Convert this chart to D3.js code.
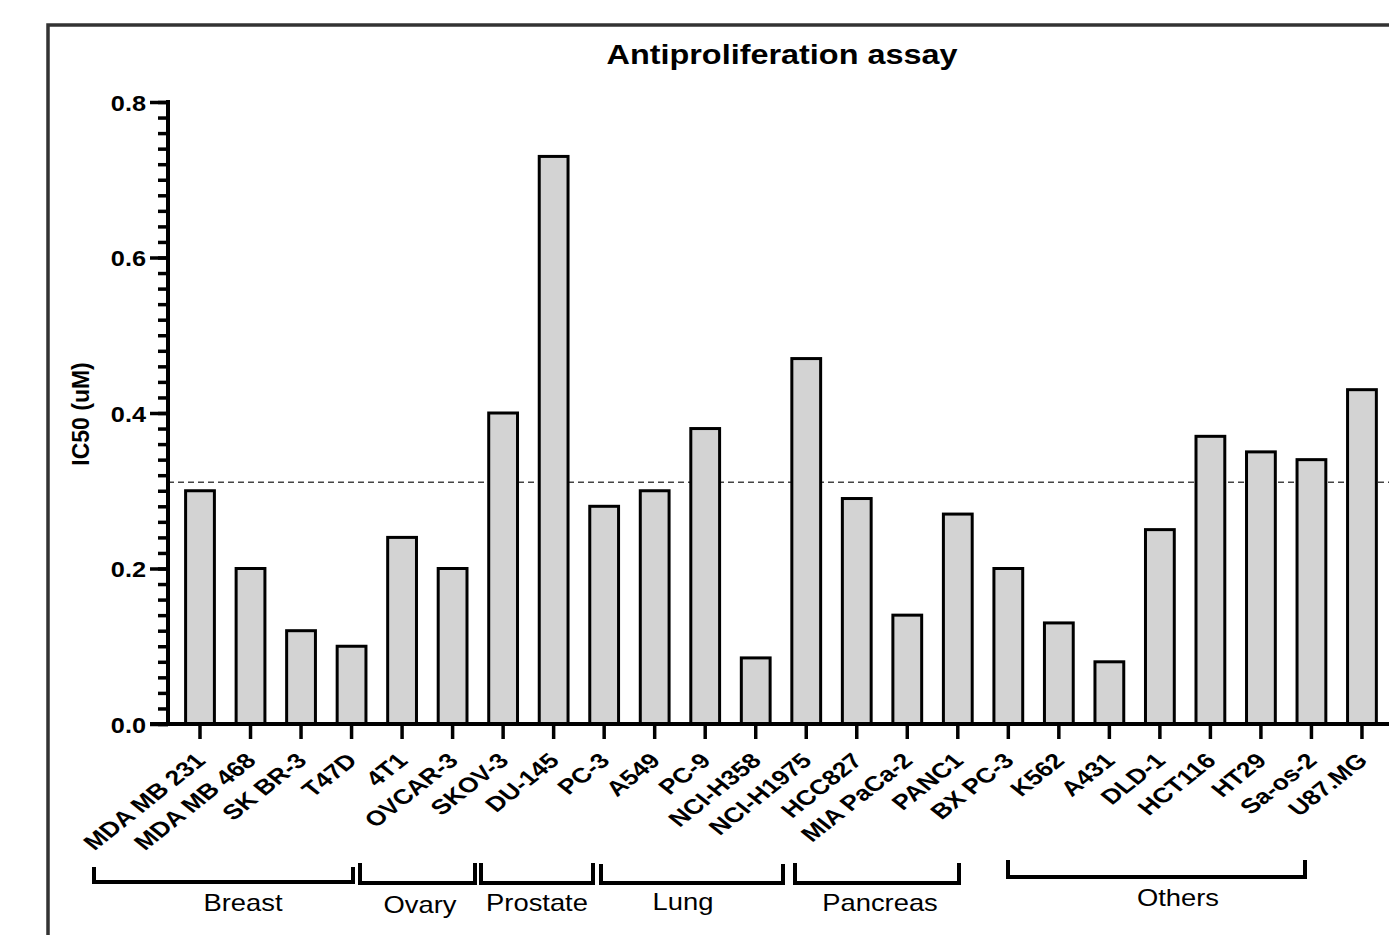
<!DOCTYPE html>
<html>
<head>
<meta charset="utf-8">
<script src="https://cdn.jsdelivr.net/npm/d3@7/dist/d3.min.js"></script>
<style>
  html, body { margin: 0; padding: 0; background: #fff; }
  svg { display: block; font-family: "Liberation Sans", Arial, sans-serif; }
</style>
</head>
<body>
<svg id="chart" width="1389" height="935"></svg>
<script>
// IC50 per cell line
const cellLines = ["MDA MB 231", "MDA MB 468", "SK BR-3", "T47D", "4T1", "OVCAR-3",
  "SKOV-3", "DU-145", "PC-3", "A549", "PC-9", "NCI-H358", "NCI-H1975", "HCC827",
  "MIA PaCa-2", "PANC1", "BX PC-3", "K562", "A431", "DLD-1", "HCT116", "HT29",
  "Sa-os-2", "U87.MG"];
const ic50 = [0.30, 0.20, 0.12, 0.10, 0.24, 0.20, 0.40, 0.73, 0.28, 0.30, 0.38, 0.085,
  0.47, 0.29, 0.14, 0.27, 0.20, 0.13, 0.08, 0.25, 0.37, 0.35, 0.34, 0.43];
const yTickValues = [0.0, 0.2, 0.4, 0.6, 0.8];
const referenceLevel = 0.311;

// tissue groups drawn as brackets under the axis labels
const groupNames = ["Breast", "Ovary", "Prostate", "Lung", "Pancreas", "Others"];

const title = "Antiproliferation assay";
const yTitle = "IC50 (uM)";

// ---- layout ----
const svg = d3.select("#chart");
const W = 1389, H = 935;
const axisX = 168, y0 = 724, yTop = 102;
const step = 50.52;

const x = d3.scaleBand()
  .domain(cellLines)
  .range([200 - step / 2, 200 - step / 2 + step * cellLines.length])
  .paddingInner(0.43)
  .paddingOuter(0.215);

const y = d3.scaleLinear().domain([0, 0.8]).range([y0, yTop]);

// outer frame
svg.append("rect")
  .attr("x", 48).attr("y", 25)
  .attr("width", 1400).attr("height", 1000)
  .attr("fill", "none").attr("stroke", "#333").attr("stroke-width", 3.5);

// title
svg.append("text")
  .attr("transform", "translate(782,64) scale(1.2,1)")
  .attr("text-anchor", "middle")
  .attr("font-weight", "bold").attr("font-size", 27)
  .text(title);

// reference level
svg.append("line")
  .attr("x1", axisX).attr("x2", W + 10)
  .attr("y1", y(referenceLevel)).attr("y2", y(referenceLevel))
  .attr("stroke", "#444").attr("stroke-width", 1.5)
  .attr("stroke-dasharray", "6,4");

// bars
svg.append("g").selectAll("rect")
  .data(cellLines)
  .join("rect")
  .attr("x", d => x(d))
  .attr("width", x.bandwidth())
  .attr("y", (d, i) => y(ic50[i]))
  .attr("height", (d, i) => y0 - y(ic50[i]))
  .attr("fill", "#d3d3d3")
  .attr("stroke", "#000")
  .attr("stroke-width", 3);

// y axis: minor ticks every 0.02, labelled majors every 0.2
const yAxis = d3.axisLeft(y)
  .tickValues(d3.range(0, 0.8001, 0.02))
  .tickSize(10)
  .tickFormat("");
const gy = svg.append("g").attr("transform", `translate(${axisX},0)`).call(yAxis);
gy.select(".domain").remove();
gy.selectAll(".tick line").attr("stroke", "#000").attr("stroke-width", 3.5);

const yMajor = d3.axisLeft(y).tickValues(yTickValues).tickSize(18).tickFormat(d3.format(".1f"));
const gyM = svg.append("g").attr("transform", `translate(${axisX},0)`).call(yMajor);
gyM.select(".domain").remove();
gyM.selectAll(".tick line").attr("stroke", "#000").attr("stroke-width", 3.5);
gyM.selectAll(".tick text")
  .attr("x", null).attr("dy", null)
  .attr("text-anchor", "end")
  .attr("font-family", "Liberation Sans, Arial, sans-serif")
  .attr("font-size", 22).attr("font-weight", "bold").attr("fill", "#000")
  .attr("transform", "translate(-22,8) scale(1.15,1)");

svg.append("line")
  .attr("x1", axisX).attr("x2", axisX)
  .attr("y1", yTop - 2).attr("y2", y0 + 2)
  .attr("stroke", "#000").attr("stroke-width", 4);

// y title
svg.append("text")
  .attr("transform", "translate(89,414) rotate(-90)")
  .attr("text-anchor", "middle")
  .attr("font-weight", "bold").attr("font-size", 23)
  .text(yTitle);

// x axis
const xAxis = d3.axisBottom(x).tickSize(15).tickSizeOuter(0);
const gx = svg.append("g").attr("transform", `translate(0,${y0})`).call(xAxis);
gx.select(".domain").remove();
gx.selectAll(".tick line").attr("stroke", "#000").attr("stroke-width", 3.5);
gx.selectAll(".tick text")
  .attr("y", null).attr("dy", null)
  .attr("text-anchor", "end")
  .attr("font-family", "Liberation Sans, Arial, sans-serif")
  .attr("font-size", 21).attr("font-weight", "bold").attr("fill", "#000")
  .attr("transform", "translate(7,38) scale(1.26,1) rotate(-45)");

svg.append("line")
  .attr("x1", axisX - 18).attr("x2", W + 10)
  .attr("y1", y0).attr("y2", y0)
  .attr("stroke", "#000").attr("stroke-width", 4);

// group brackets: span left/right, top of the end hooks, bar line, label centre and baseline
const bracketSpans = [
  [94, 353, 867, 882, 243, 911], [360, 475, 863, 883, 420, 913],
  [481, 593, 863, 883, 537, 911], [601, 783, 864, 883, 683, 910],
  [795, 959, 863, 883, 880, 911], [1008, 1305, 860, 877, 1178, 906]
];
const bracketG = svg.append("g");
groupNames.forEach((name, i) => {
  const [l, r, top, base, cx, by] = bracketSpans[i];
  bracketG.append("path")
    .attr("d", `M${l},${top}V${base}H${r}V${top}`)
    .attr("fill", "none").attr("stroke", "#000").attr("stroke-width", 4)
    .attr("stroke-linejoin", "miter");
  bracketG.append("text")
    .attr("transform", `translate(${cx},${by}) scale(1.19,1)`)
    .attr("text-anchor", "middle")
    .attr("font-size", 23)
    .text(name);
});
</script>
</body>
</html>
